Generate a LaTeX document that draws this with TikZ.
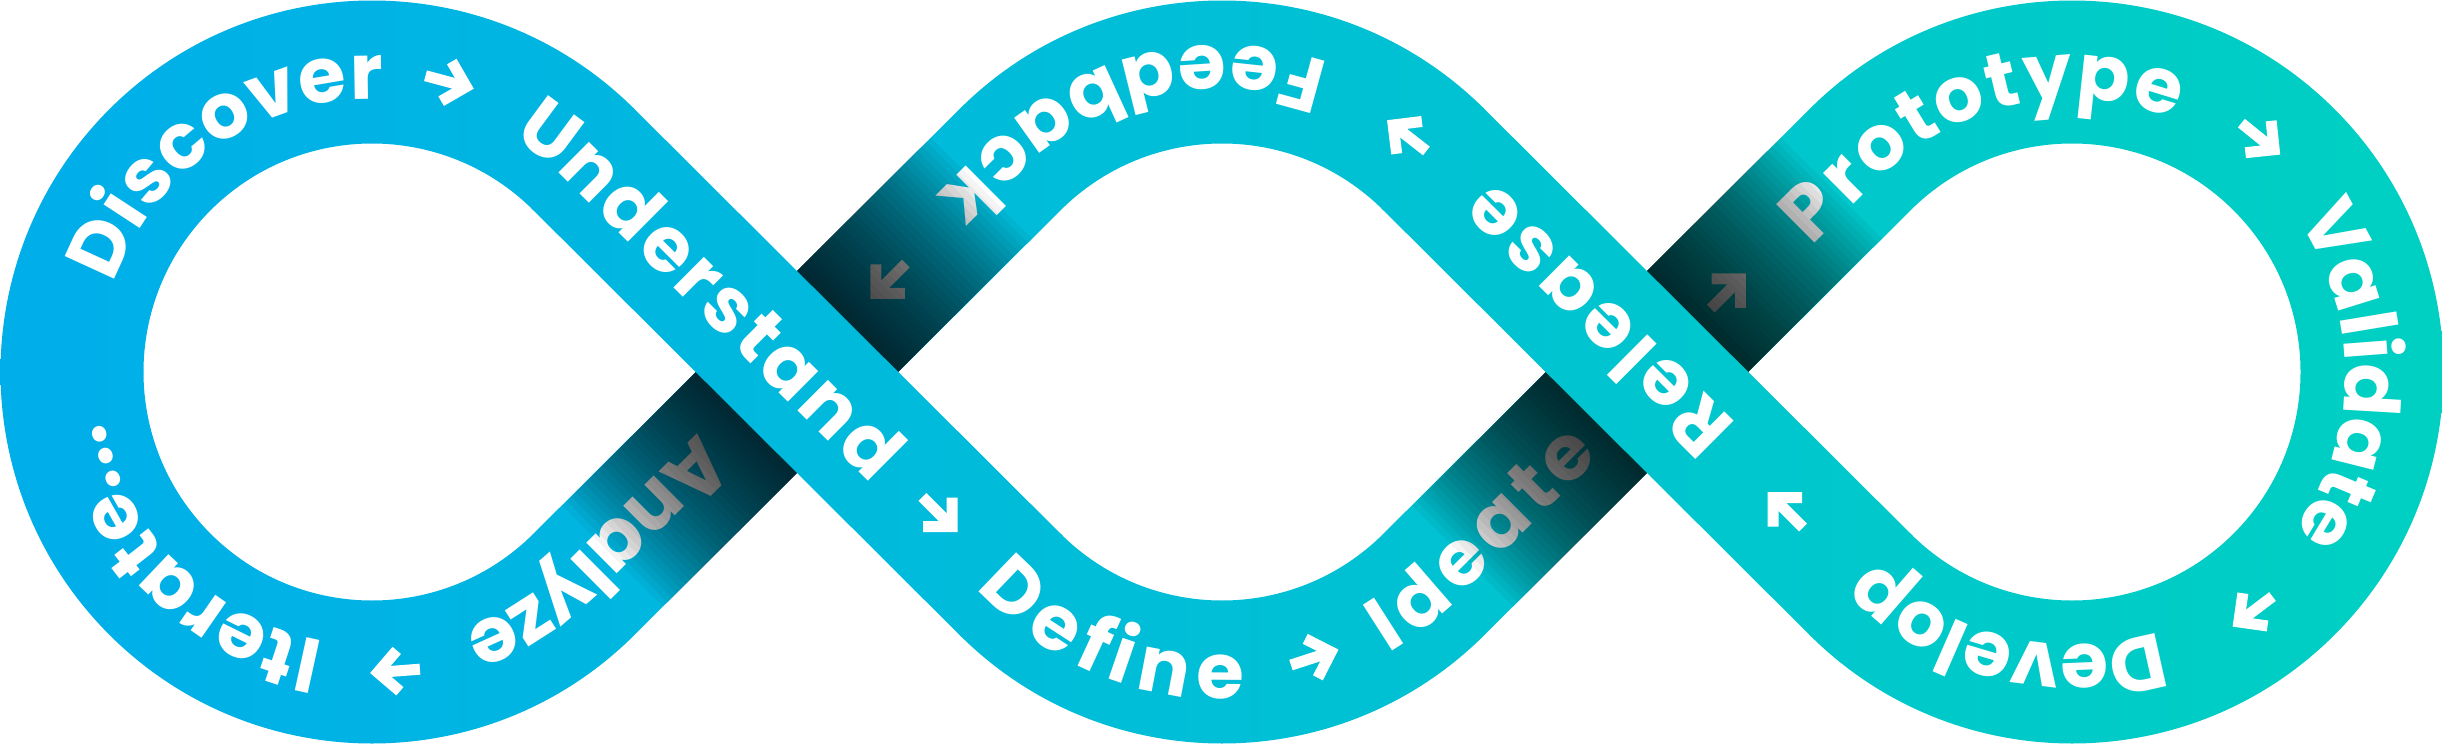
\documentclass[tikz,border=0pt]{standalone}
\usepackage{fontspec}
\newfontfamily\wordfont{Poppins}[BoldFont=* Bold]
\usetikzlibrary{calc, decorations.text}
\definecolor{loopblue}{HTML}{00AEEA}
\definecolor{loopteal}{HTML}{00D0C2}
\newcommand{\wordstyle}{\wordfont\bfseries\fontsize{22}{26}\selectfont\color{white}}

\begin{document}
\begin{tikzpicture}[
    wordpath/.style={
        decorate,
        decoration={
            text along path,
            text align=fit to path,
            raise=-7.7pt,
            text={|\wordstyle|#1}
        }
    },
    flowarrow/.pic={
        \draw[white, line width=0.11cm, line join=miter] (-0.033,0.205) -- (0.172,0) -- (-0.033,-0.205);
        \draw[white, line width=0.11cm] (-0.25,0) -- (0.172,0);
    },
    ribbon/.style={
        left color=loopblue,
        right color=loopteal
    }
]
\useasboundingbox (0,0) rectangle (24.42,7.44);
\def\ro{3.715}
\def\ri{2.285}

% Loop centres and tangent points
\coordinate (Lc) at (3.72,3.72);
\coordinate (Mc) at (12.22,3.72);
\coordinate (Rc) at (20.72,3.72);
\coordinate (T1) at ($(Lc)+(45:3)$);
\coordinate (T2) at ($(Mc)+(225:3)$);
\coordinate (T3) at ($(Mc)+(315:3)$);
\coordinate (T4) at ($(Rc)+(135:3)$);
\coordinate (T5) at ($(Rc)+(225:3)$);
\coordinate (T6) at ($(Mc)+(45:3)$);
\coordinate (T7) at ($(Mc)+(135:3)$);
\coordinate (T8) at ($(Lc)+(315:3)$);

% Ribbon, lower parts
\begin{scope}
    \clip ($(Lc)+(45:\ro)$) arc[start angle=45, end angle=315, radius=\ro]
            -- ($(Lc)+(315:\ri)$) arc[start angle=315, end angle=45, radius=\ri] -- cycle
          ($(Mc)+(45:\ro)$) arc[start angle=45, end angle=135, radius=\ro]
            -- ($(Mc)+(135:\ri)$) arc[start angle=135, end angle=45, radius=\ri] -- cycle
          ($(Mc)+(225:\ro)$) arc[start angle=225, end angle=315, radius=\ro]
            -- ($(Mc)+(315:\ri)$) arc[start angle=315, end angle=225, radius=\ri] -- cycle
          ($(Rc)+(-135:\ro)$) arc[start angle=-135, end angle=135, radius=\ro]
            -- ($(Rc)+(135:\ri)$) arc[start angle=135, end angle=-135, radius=\ri] -- cycle
          ($(Mc)+(315:\ro)$) -- ($(Rc)+(135:\ri)$) -- ($(Rc)+(135:\ro)$) -- ($(Mc)+(315:\ri)$) -- cycle
          ($(Mc)+(135:\ro)$) -- ($(Lc)+(315:\ri)$) -- ($(Lc)+(315:\ro)$) -- ($(Mc)+(135:\ri)$) -- cycle;
    \shade[ribbon] (0,0) rectangle (24.42,7.44);
\end{scope}

% Words on the lower parts
\path[wordpath=Discover] ($(Lc)+(160.7:3)$) arc[start angle=160.7, end angle=87.8, radius=3];
\path[wordpath=Ideate] ($(Mc)+(300.4:3)$) arc[start angle=300.4, end angle=315, radius=3] -- ($(T3)!0.346!(T4)$);
\path[wordpath=Prototype] ($(T3)!0.842!(T4)$) -- (T4) arc[start angle=135, end angle=68.4, radius=3];
\path[wordpath=Validate] ($(Rc)+(33.7:3)$) arc[start angle=33.7, end angle=-35.5, radius=3];
\path[wordpath=Feedback] ($(Mc)+(70.6:3)$) arc[start angle=70.6, end angle=135, radius=3] -- ($(T7)!0.13!(T8)$);
\path[wordpath=Analyze] ($(T7)!0.687!(T8)$) -- (T8) arc[start angle=-45, end angle=-70.2, radius=3];
\path[wordpath=Iterate...] ($(Lc)+(-100.2:3)$) arc[start angle=-100.2, end angle=-169.3, radius=3];

% Arrows on the lower parts
\pic[rotate=-15] at ($(Lc)+(75:3)$) {flowarrow};
\pic[rotate=18] at ($(Mc)+(288:3)$) {flowarrow};
\pic[rotate=45] at ($(T3)!0.691!(T4)$) {flowarrow};
\pic[rotate=-39] at ($(Rc)+(51:3)$) {flowarrow};
\pic[rotate=-143] at ($(Rc)+(-53:3)$) {flowarrow};
\pic[rotate=142] at ($(Mc)+(52:3)$) {flowarrow};
\pic[rotate=225] at ($(T7)!0.286!(T8)$) {flowarrow};
\pic[rotate=-175.6] at ($(Lc)+(-85.6:3)$) {flowarrow};

% Shadows where the ribbon passes under itself
\foreach \cx in {7.97,16.47} {
    \begin{scope}[shift={(\cx,3.72)}, rotate=45]
        \foreach \i in {1,...,30} {
            \fill[black, fill opacity=0.0415] (0.6,-0.715) rectangle ({0.715+0.063*\i},0.715);
            \fill[black, fill opacity=0.0415] (-0.6,-0.715) rectangle ({-0.715-0.063*\i},0.715);
        }
    \end{scope}
}

% Ribbon, upper parts
\begin{scope}
    \clip ($(Lc)+(45:\ro)+(135:0.03)$) -- ($(Mc)+(225:\ri)+(315:0.03)$)
            -- ($(Mc)+(225:\ro)+(315:0.03)$) -- ($(Lc)+(45:\ri)+(135:0.03)$) -- cycle
          ($(Rc)+(225:\ro)+(315:0.03)$) -- ($(Mc)+(45:\ri)+(135:0.03)$)
            -- ($(Mc)+(45:\ro)+(135:0.03)$) -- ($(Rc)+(225:\ri)+(315:0.03)$) -- cycle;
    \shade[ribbon] (0,0) rectangle (24.42,7.44);
\end{scope}

% Words on the upper parts
\path[wordpath=Understand] ($(Lc)+(58.7:3)$) arc[start angle=58.7, end angle=45, radius=3] -- ($(T1)!0.721!(T2)$);
\path[wordpath=Define] ($(T1)!0.963!(T2)$) -- (T2) arc[start angle=225, end angle=274.2, radius=3];
\path[wordpath=Develop] ($(Rc)+(-72:3)$) arc[start angle=-72, end angle=-135, radius=3] -- ($(T5)!0.008!(T6)$);
\path[wordpath=Release] ($(T5)!0.332!(T6)$) -- ($(T5)!0.905!(T6)$);
\pic[rotate=-45] at ($(T1)!0.836!(T2)$) {flowarrow};
\pic[rotate=135] at ($(T5)!0.175!(T6)$) {flowarrow};

\end{tikzpicture}
\end{document}
